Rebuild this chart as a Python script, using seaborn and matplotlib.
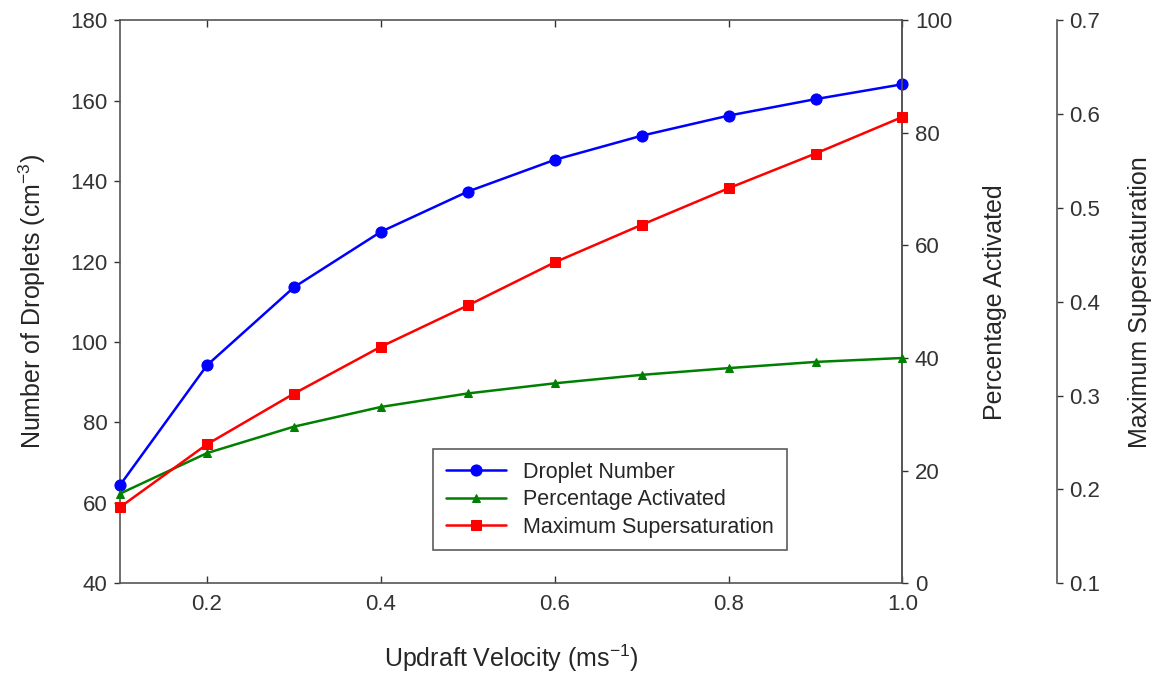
import numpy as np
import pandas as pd
import matplotlib
matplotlib.use("Agg")
import matplotlib.pyplot as plt
import seaborn as sns

# values
velocity = [0.1, 0.2, 0.3, 0.4, 0.5, 0.6, 0.7, 0.8, 0.9, 1.0]
droplet_number = [64.4, 94.2, 113.6, 127.4, 137.4, 145.3, 151.3, 156.3, 160.4, 164.1]
pct_activated = [15.9, 23.1, 27.8, 31.3, 33.7, 35.5, 37.0, 38.2, 39.3, 40.0]
max_ss = [0.181, 0.248, 0.302, 0.352, 0.396, 0.442, 0.482, 0.521, 0.558, 0.597]

df = pd.DataFrame({"v": velocity, "N": droplet_number,
                   "P": pct_activated, "S": max_ss})

sns.set_style("ticks")
plt.rcParams['font.family'] = ['Liberation Sans', 'DejaVu Sans']
plt.rcParams['mathtext.fontset'] = 'custom'
plt.rcParams['mathtext.rm'] = 'Liberation Sans'

fig = plt.figure(figsize=(11.66, 6.78), dpi=100)
ax = fig.add_axes([0.103, 0.140, 0.671, 0.830])
ax2 = ax.twinx()
ax3 = ax.twinx()
ax3.spines['right'].set_position(('axes', 1.197))

sns.lineplot(data=df, x="v", y="N", ax=ax, color="#0000ff", marker="o",
             markersize=8, markeredgecolor="#0000ff", linewidth=1.8,
             label="Droplet Number", legend=False, clip_on=False, zorder=5)
sns.lineplot(data=df, x="v", y="P", ax=ax2, color="#008000", marker="^",
             markersize=6, markeredgecolor="#008000", linewidth=1.8,
             label="Percentage Activated", legend=False, clip_on=False, zorder=5)
sns.lineplot(data=df, x="v", y="S", ax=ax3, color="#ff0000", marker="s",
             markersize=7, markeredgecolor="#ff0000", linewidth=1.8,
             label="Maximum Supersaturation", legend=False, clip_on=False, zorder=5)

ax.set_xlim(0.1, 1.0)
ax.set_xticks([0.2, 0.4, 0.6, 0.8, 1.0])
ax.set_xticklabels(["0.2", "0.4", "0.6", "0.8", "1.0"])
ax.set_ylim(40, 180)
ax.set_yticks(np.arange(40, 181, 20))
ax2.set_ylim(0, 100)
ax2.set_yticks(np.arange(0, 101, 20))
ax3.set_ylim(0.1, 0.7)
ax3.set_yticks([0.1, 0.2, 0.3, 0.4, 0.5, 0.6, 0.7])

ax.set_xlabel("Updraft Velocity (ms$^{-1}$)", fontsize=18, labelpad=20)
ax.set_ylabel("Number of Droplets (cm$^{-3}$)", fontsize=18, labelpad=16)
ax2.set_ylabel("Percentage Activated", fontsize=18, labelpad=22)
ax3.set_ylabel("Maximum Supersaturation", fontsize=18, labelpad=20)

for a in (ax, ax2, ax3):
    a.tick_params(labelsize=16, colors="#333333", length=4, width=1, pad=5)
    for s in a.spines.values():
        s.set_color("#555555")
        s.set_linewidth(1.2)
ax.spines['top'].set_visible(True)
ax.spines['right'].set_visible(True)
ax.tick_params(axis='x', direction='in', top=True, length=5, pad=8)
ax3.spines['top'].set_visible(False)
ax3.spines['left'].set_visible(False)
ax3.spines['bottom'].set_visible(False)
ax2.spines['left'].set_visible(False)
ax2.spines['top'].set_visible(False)
ax2.spines['bottom'].set_visible(False)

handles = []
labels = []
for a in (ax, ax2, ax3):
    h, l = a.get_legend_handles_labels()
    handles += h
    labels += l
leg = ax3.legend(handles, labels, loc="lower left",
                 bbox_to_anchor=(0.40, 0.058, 0.0, 0.0),
                 fontsize=15.5, frameon=True, fancybox=False,
                 edgecolor="#333333", borderpad=0.6, handlelength=2.8,
                 labelspacing=0.3, borderaxespad=0)
leg.get_frame().set_linewidth(1.2)

fig.savefig("out.png", dpi=100)
